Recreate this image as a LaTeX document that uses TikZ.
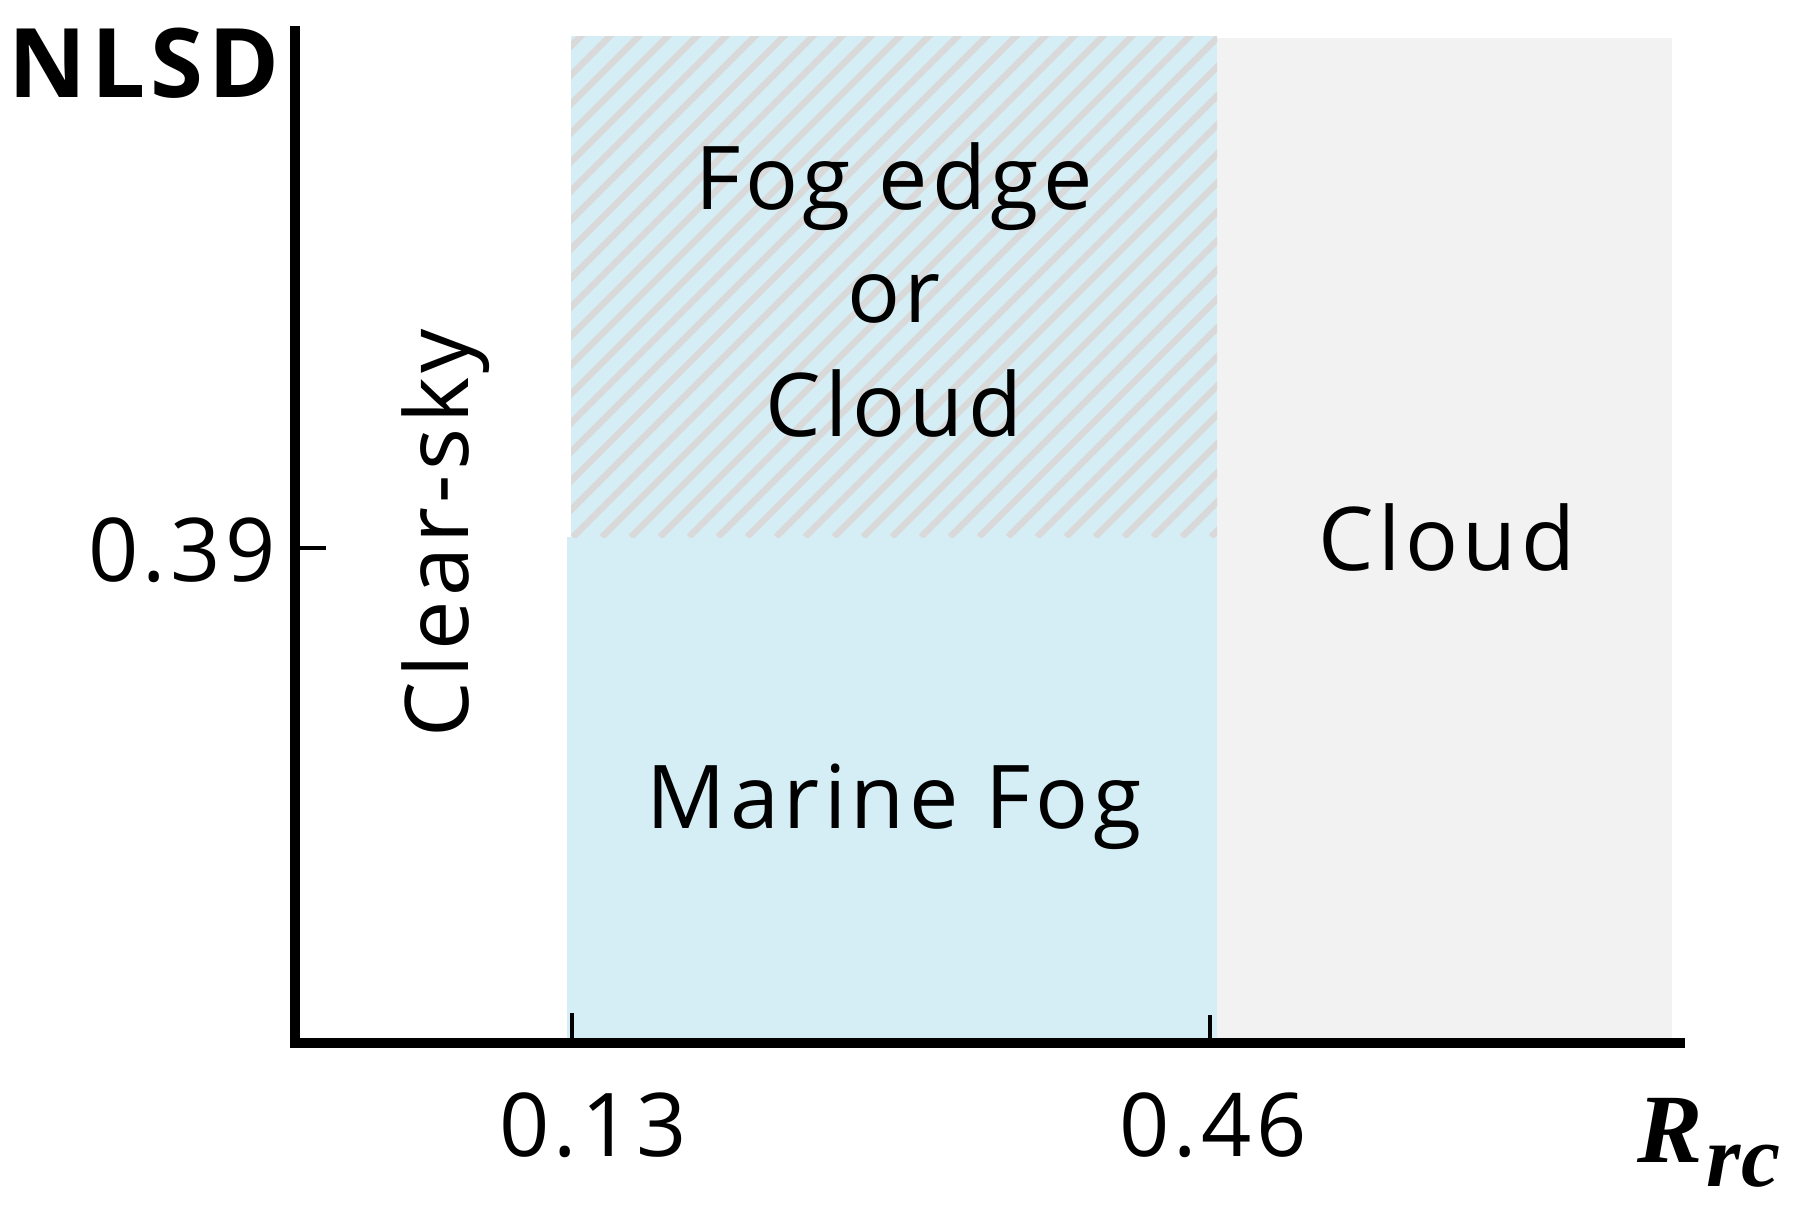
\documentclass[tikz,border=0pt]{standalone}
\usepackage{fontspec}
\setmainfont{Open Sans}[LetterSpace=5]
\newfontfamily\mathsfont{Liberation Serif}
\definecolor{fogblue}{HTML}{D5EEF5}
\definecolor{hatchgrey}{HTML}{D9D9D9}
\definecolor{cloudgrey}{HTML}{F2F2F2}
\tikzset{
  axisline/.style={line width=5pt, line cap=rect},
  tickline/.style={line width=2pt},
  lbl/.style={inner sep=0pt, font=\fontsize{44}{50}\selectfont},
  ticklbl/.style={inner sep=0pt, font=\fontsize{44}{50}\selectfont},
}
\begin{document}
\begin{tikzpicture}[x=0.5pt,y=-0.5pt]
\useasboundingbox (0,0) rectangle (1798,1205);
% regions
\fill[cloudgrey] (1217,38) rectangle (1672,1041);
\fill[fogblue] (567,537) rectangle (1217,1041);
\fill[fogblue] (571,36) rectangle (1217,537);
\begin{scope}
  \clip (571,36) rectangle (1217,537);
  \foreach \k in {0,...,40} {
    \draw[hatchgrey, line width=3.3pt] ({571-520+\k*29},537) -- ++(520,-520);
  }
\end{scope}
% axes
\coordinate (O) at (295,1043);
\coordinate (ytop) at (295,31);
\coordinate (xend) at (1680,1043);
\draw[axisline] (ytop) -- (O) -- (xend);
% ticks
\coordinate (t39a) at (295,548);
\coordinate (t39b) at (326,548);
\coordinate (t13a) at (572,1041);
\coordinate (t13b) at (572,1013);
\coordinate (t46a) at (1210,1041);
\coordinate (t46b) at (1210,1015);
\draw[tickline] (t39a) -- (t39b);
\draw[tickline] (t13a) -- (t13b);
\draw[tickline] (t46a) -- (t46b);
% labels
\node[inner sep=0pt, anchor=base east, font=\fontsize{48}{50}\selectfont\bfseries] (nlsd) at (280,97) {NLSD};
\node[ticklbl, anchor=base east] (v39) at (276,581) {0.39};
\node[ticklbl, anchor=base] (v13) at (593,1156) {0.13};
\node[ticklbl, anchor=base] (v46) at (1213,1156) {0.46};
\node[inner sep=0pt, anchor=base west] (rrc) at (1637,1162)
  {\mathsfont\fontsize{49}{50}\selectfont\bfseries\itshape R\kern2pt\raisebox{-12pt}{\fontsize{44}{46}\selectfont rc}};
\node[lbl, anchor=base] (fog1) at (894,209) {Fog edge};
\node[lbl, anchor=base] (fog2) at (894,322) {or};
\node[lbl, anchor=base] (fog3) at (894,436) {Cloud};
\node[lbl, anchor=base] (cloud) at (1447,570) {Cloud};
\node[lbl, anchor=base] (marine) at (894,828) {Marine Fog};
\node[lbl, anchor=base, rotate=90] (clear) at (468,533) {Clear-sky};
\end{tikzpicture}
\end{document}
